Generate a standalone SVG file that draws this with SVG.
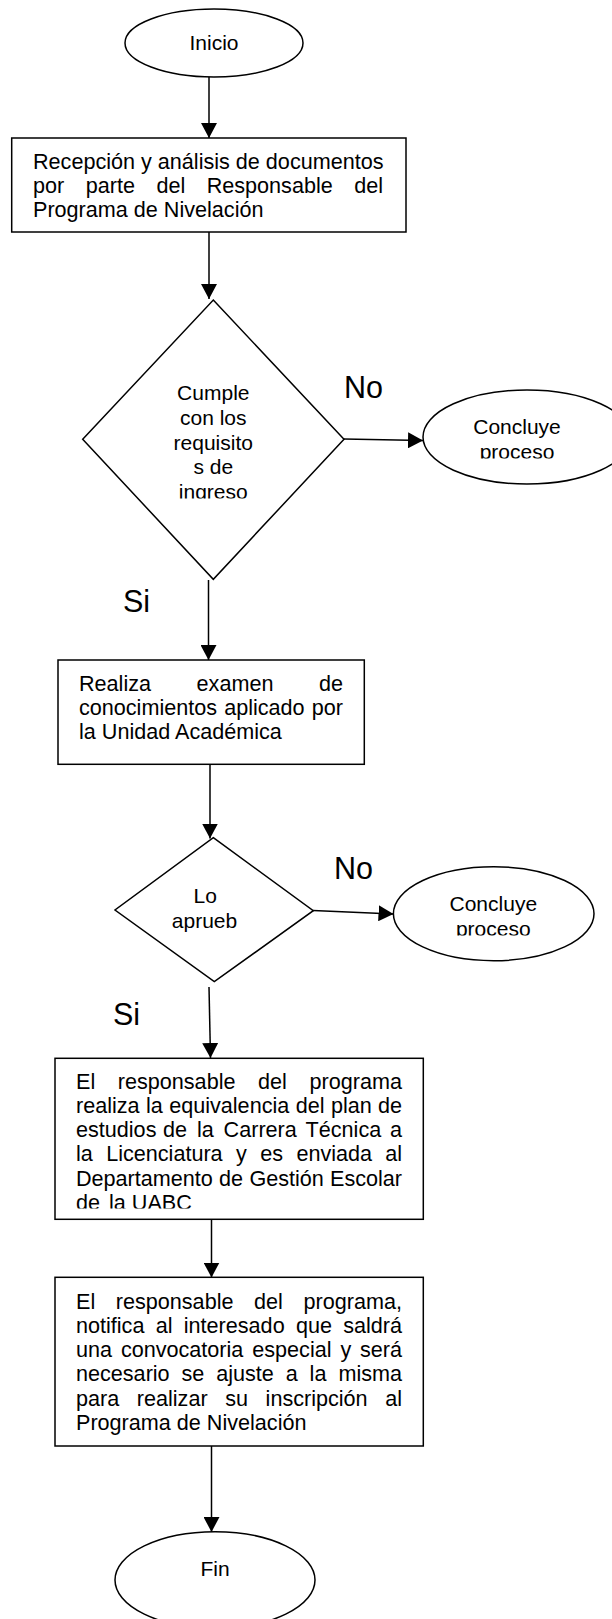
<svg xmlns="http://www.w3.org/2000/svg" width="612" height="1619" viewBox="0 0 612 1619">
<style>
.s{fill:#fff;stroke:#000;stroke-width:1.5}
.t{font-family:"Liberation Sans",Arial,sans-serif;font-size:21.6px;fill:#000}
.u{font-family:"Liberation Sans",Arial,sans-serif;font-size:21px;fill:#000}
.c{text-anchor:middle}
.e{text-anchor:end}
.lbl{font-family:"Liberation Sans",Arial,sans-serif;font-size:30.5px;fill:#000}
.ln{fill:none;stroke:#000;stroke-width:1.5}
</style>
<defs>
<marker id="ah" markerUnits="userSpaceOnUse" markerWidth="16" markerHeight="16" refX="15" refY="8" orient="auto">
<path d="M0,0 L15,8 L0,16 Z" fill="#000"/>
</marker>
<clipPath id="cd1"><rect x="0" y="380" width="612" height="118.5"/></clipPath>
<clipPath id="ce1"><rect x="0" y="400" width="612" height="58.5"/></clipPath>
<clipPath id="ce2"><rect x="0" y="880" width="612" height="55.5"/></clipPath>
<clipPath id="cr3"><rect x="0" y="1060" width="612" height="148.5"/></clipPath>
</defs>
<rect width="612" height="1619" fill="#fff"/>
<g id="connectors">
<line class="ln" x1="209" y1="77" x2="209" y2="138" marker-end="url(#ah)"/>
<line class="ln" x1="209" y1="232" x2="209" y2="299" marker-end="url(#ah)"/>
<line class="ln" x1="344" y1="439" x2="423" y2="440.5" marker-end="url(#ah)"/>
<line class="ln" x1="208.5" y1="580" x2="208.5" y2="660" marker-end="url(#ah)"/>
<line class="ln" x1="210" y1="764" x2="210" y2="838.5" marker-end="url(#ah)"/>
<line class="ln" x1="313" y1="910.5" x2="393.5" y2="914" marker-end="url(#ah)"/>
<line class="ln" x1="209" y1="987" x2="210.5" y2="1058" marker-end="url(#ah)"/>
<line class="ln" x1="211.5" y1="1219" x2="211.5" y2="1277.5" marker-end="url(#ah)"/>
<line class="ln" x1="211.5" y1="1446" x2="211.5" y2="1532" marker-end="url(#ah)"/>
</g>
<g id="inicio">
<ellipse class="s" cx="214" cy="43" rx="89" ry="34"/>
<text class="u c" x="214" y="50">Inicio</text>
</g>
<g id="recepcion">
<rect class="s" x="11.7" y="138" width="394.3" height="94"/>
<text class="t" x="33" y="169">Recepción y análisis de documentos</text>
<text class="t" y="193.2"><tspan x="33">por</tspan><tspan x="85.7">parte</tspan><tspan x="156.4">del</tspan><tspan x="206.7">Responsable</tspan></text>
<text class="t e" x="383" y="193.2">del</text>
<text class="t" x="33" y="217.4">Programa de Nivelación</text>
</g>
<g id="cumple">
<polygon class="s" points="213.3,300 344,439.3 213.3,579.3 82.7,439.3"/>
<g clip-path="url(#cd1)">
<text class="u c" x="213.3" y="400">Cumple</text>
<text class="u c" x="213.3" y="424.8">con los</text>
<text class="u c" x="213.3" y="449.6">requisito</text>
<text class="u c" x="213.3" y="474.4">s de</text>
<text class="u c" x="213.3" y="499.2">ingreso</text>
</g>
</g>
<g id="concluye1">
<ellipse class="s" cx="527" cy="437" rx="104" ry="47"/>
<g clip-path="url(#ce1)">
<text class="u c" x="517" y="434">Concluye</text>
<text class="u c" x="517" y="458.5">proceso</text>
</g>
</g>
<g id="realiza">
<rect class="s" x="58" y="660" width="306.3" height="104.3"/>
<text class="t" y="690.5"><tspan x="79">Realiza</tspan><tspan x="196.6">examen</tspan></text>
<text class="t e" x="343" y="690.5">de</text>
<text class="t" y="714.7"><tspan x="79">conocimientos</tspan><tspan x="224.2">aplicado</tspan></text>
<text class="t e" x="343" y="714.7">por</text>
<text class="t" x="79" y="738.9">la Unidad Académica</text>
</g>
<g id="loaprueb">
<polygon class="s" points="213.3,837.7 313.3,910.7 214.3,981.7 115,910"/>
<text class="u c" x="205.3" y="903.3">Lo</text>
<text class="u c" x="204.5" y="928.3">aprueb</text>
</g>
<g id="concluye2">
<ellipse class="s" cx="493.7" cy="913.7" rx="100.3" ry="47"/>
<g clip-path="url(#ce2)">
<text class="u c" x="493.3" y="911">Concluye</text>
<text class="u c" x="493.3" y="935.5">proceso</text>
</g>
</g>
<g id="labels">
<text class="lbl" x="344" y="397.7">No</text>
<text class="lbl" x="123" y="612.3">Si</text>
<text class="lbl" x="334" y="878.7">No</text>
<text class="lbl" x="113" y="1025">Si</text>
</g>
<g id="equivalencia">
<rect class="s" x="55" y="1058.3" width="368.3" height="161"/>
<text class="t" y="1088.5"><tspan x="76">El</tspan><tspan x="117.8">responsable</tspan><tspan x="258.1">del</tspan></text>
<text class="t e" x="402" y="1088.5">programa</text>
<text class="t" y="1112.8"><tspan x="76">realiza</tspan><tspan x="146">la</tspan><tspan x="169.2">equivalencia</tspan><tspan x="295.7">del</tspan><tspan x="330.9">plan</tspan></text>
<text class="t e" x="402" y="1112.8">de</text>
<text class="t" y="1137.1"><tspan x="76">estudios</tspan><tspan x="163">de</tspan><tspan x="197">la</tspan><tspan x="223.6">Carrera</tspan><tspan x="305.6">Técnica</tspan></text>
<text class="t e" x="402" y="1137.1">a</text>
<text class="t" y="1161.4"><tspan x="76">la</tspan><tspan x="106.2">Licenciatura</tspan><tspan x="236">y</tspan><tspan x="260.2">es</tspan><tspan x="296.4">enviada</tspan></text>
<text class="t e" x="402" y="1161.4">al</text>
<text class="t" y="1185.7"><tspan x="76">Departamento</tspan><tspan x="219.1">de</tspan><tspan x="249.4">Gestión</tspan></text>
<text class="t e" x="402" y="1185.7">Escolar</text>
<g clip-path="url(#cr3)">
<text class="t" y="1210"><tspan x="76">de</tspan><tspan x="109">la UABC</tspan></text>
</g>
</g>
<g id="notifica">
<rect class="s" x="55" y="1277.3" width="368.3" height="168.7"/>
<text class="t" y="1308.5"><tspan x="76">El</tspan><tspan x="115.8">responsable</tspan><tspan x="254.1">del</tspan></text>
<text class="t e" x="402" y="1308.5">programa,</text>
<text class="t" y="1332.8"><tspan x="76">notifica</tspan><tspan x="155.7">al</tspan><tspan x="183.8">interesado</tspan><tspan x="296">que</tspan></text>
<text class="t e" x="402" y="1332.8">saldrá</text>
<text class="t" y="1357.1"><tspan x="76">una</tspan><tspan x="120.9">convocatoria</tspan><tspan x="252.3">especial</tspan><tspan x="340.4">y</tspan></text>
<text class="t e" x="402" y="1357.1">será</text>
<text class="t" y="1381.4"><tspan x="76">necesario</tspan><tspan x="181.5">se</tspan><tspan x="216.2">ajuste</tspan><tspan x="285.7">a</tspan><tspan x="309.6">la</tspan></text>
<text class="t e" x="402" y="1381.4">misma</text>
<text class="t" y="1405.7"><tspan x="76">para</tspan><tspan x="136.8">realizar</tspan><tspan x="225.2">su</tspan><tspan x="265.6">inscripción</tspan></text>
<text class="t e" x="402" y="1405.7">al</text>
<text class="t" x="76" y="1430">Programa de Nivelación</text>
</g>
<g id="fin">
<ellipse class="s" cx="215" cy="1580" rx="100" ry="48.3"/>
<text class="u c" x="215" y="1576">Fin</text>
</g>
</svg>
